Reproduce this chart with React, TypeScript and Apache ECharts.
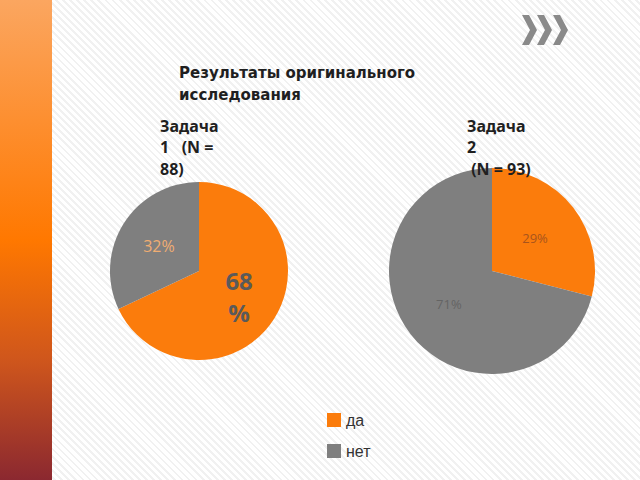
import React, { useEffect, useRef } from "react";
import * as echarts from "echarts";

const categories = ["да", "нет"];
const task1Values = [68, 32];
const task2Values = [29, 71];
const task1Labels = ["68\n%", "32%"];
const task2Labels = ["29%", "71%"];
const sliceColors = ["#fb7c0c", "#7f7f7f"];
const task1LabelColors = ["#5a5a5a", "#f0ad72"];
const task2LabelColors = ["#a8541c", "#646464"];
const task1LabelSizes = [24, 16];
const task2LabelSizes = [13, 13];
const title = "Результаты оригинального\nисследования";
const task1Title = "Задача\n1   (N =\n88)";
const task2Title = "Задача\n2\n (N = 93)";

function buildData(values: number[], labels: string[], colors: string[], sizes: number[], bold: boolean[]) {
  return values.map((v, i) => ({
    name: categories[i],
    value: v,
    itemStyle: { color: sliceColors[i] },
    label: {
      formatter: labels[i],
      color: colors[i],
      fontSize: sizes[i],
      fontWeight: bold[i] ? "bold" : "normal",
      lineHeight: sizes[i] * 1.3,
    },
  }));
}

export default function App() {
  const ref = useRef<HTMLDivElement>(null);
  useEffect(() => {
    document.body.style.margin = "0";
    if (!ref.current) return;
    const chart = echarts.init(ref.current, null, { renderer: "svg" });
    const chev = (x: number) => ({
      type: "polygon",
      shape: {
        points: [
          [x, 15],
          [x + 7, 15],
          [x + 15, 30],
          [x + 7, 45],
          [x, 45],
          [x + 8, 30],
        ],
      },
      style: { fill: "#8a8a8a" },
    });
    chart.setOption({
      animation: false,
      legend: {
        data: categories,
        orient: "vertical",
        left: 322,
        top: 407,
        icon: "rect",
        itemWidth: 14,
        itemHeight: 14,
        itemGap: 15,
        textStyle: { fontSize: 16, color: "#333", fontFamily: "Liberation Sans", lineHeight: 14 },
      },
      graphic: [
        {
          type: "rect",
          shape: { x: 0, y: 0, width: 52, height: 480 },
          style: {
            fill: {
              type: "linear",
              x: 0,
              y: 0,
              x2: 0,
              y2: 1,
              colorStops: [
                { offset: 0, color: "#fba660" },
                { offset: 0.5, color: "#ff7800" },
                { offset: 0.75, color: "#cf561c" },
                { offset: 1, color: "#8b2830" },
              ],
            },
          },
        },
        chev(522),
        chev(537),
        chev(553),
        {
          type: "text",
          x: 179,
          y: 62,
          z: 100,
          style: {
            text: title,
            font: "bold 15px 'DejaVu Sans'",
            fill: "#1f1f1f",
            lineHeight: 22,
          },
        },
        {
          type: "text",
          x: 160,
          y: 115,
          z: 100,
          style: {
            text: task1Title,
            font: "bold 16px 'Noto Sans'",
            fill: "#1f1f1f",
            lineHeight: 21.5,
          },
        },
        {
          type: "text",
          x: 467,
          y: 115,
          z: 100,
          style: {
            text: task2Title,
            font: "bold 16px 'Noto Sans'",
            fill: "#1f1f1f",
            lineHeight: 21.5,
          },
        },
      ],
      series: [
        {
          type: "pie",
          z: 1,
          center: [199, 271],
          radius: [0, 89],
          startAngle: 90,
          clockwise: true,
          label: { position: "inside", fontFamily: "Open Sans" },
          labelLine: { show: false },
          emphasis: { disabled: true },
          data: buildData(task1Values, task1Labels, task1LabelColors, task1LabelSizes, [true, false]),
        },
        {
          type: "pie",
          z: 1,
          center: [492, 271],
          radius: [0, 103],
          startAngle: 90,
          clockwise: true,
          label: { position: "inside", fontFamily: "Open Sans" },
          labelLine: { show: false },
          emphasis: { disabled: true },
          data: buildData(task2Values, task2Labels, task2LabelColors, task2LabelSizes, [false, false]),
        },
      ],
    });
    return () => chart.dispose();
  }, []);
  return (
    <div
      ref={ref}
      style={{
        position: "fixed",
        left: 0,
        top: 0,
        width: 640,
        height: 480,
        background:
          "repeating-linear-gradient(45deg, #ffffff 0px, #ffffff 3px, #f1f1f1 3px, #f1f1f1 5px)",
      }}
    />
  );
}
